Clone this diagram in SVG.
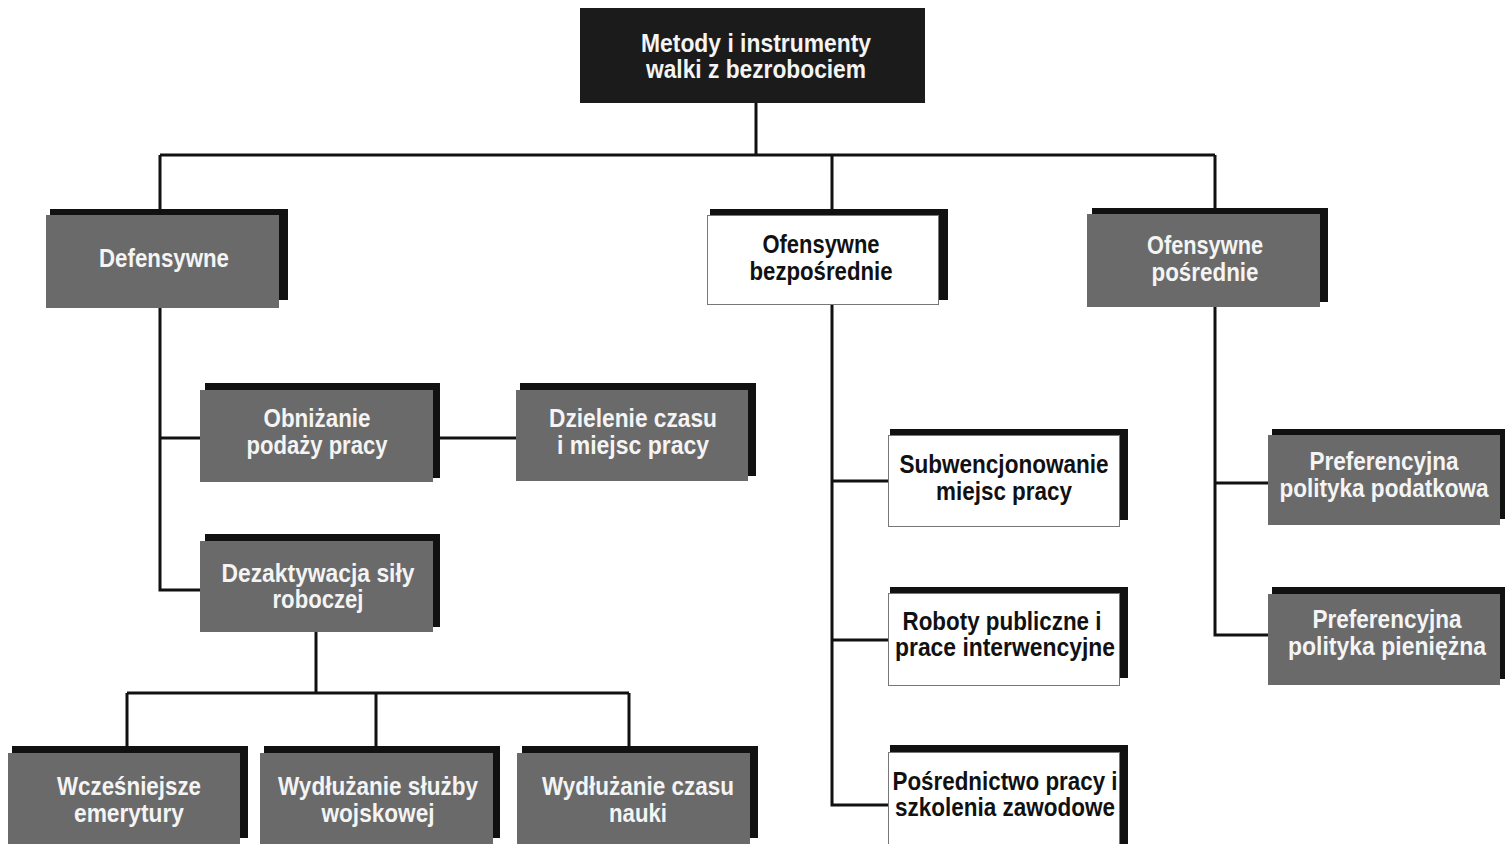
<svg xmlns="http://www.w3.org/2000/svg" width="1505" height="844" viewBox="0 0 1505 844">
<style>
.sh{fill:#111}
.g{fill:#6a6a6a}
.w{fill:#fff;stroke:#777;stroke-width:1}
.top{fill:#1b1b1b}
text{font-family:"Liberation Sans",Arial,sans-serif;font-weight:bold;font-size:25px;text-anchor:middle}
.lt{fill:#f4f4f4}
.dk{fill:#111}
.c{fill:none;stroke:#111;stroke-width:3}
</style>
<rect width="1505" height="844" fill="#fff"/>
<g id="connectors">
<path class="c" d="M756 103V155M160 155H1215M160 155V215M832 155V215M1215 155V215"/>
<path class="c" d="M160 308V590H200M160 438H200M433 438H516"/>
<path class="c" d="M316 632V693M127 693H629M127 693V753M376 693V753M629 693V753"/>
<path class="c" d="M832 305V805H888M832 481H888M832 640H888"/>
<path class="c" d="M1215 307V635H1268M1215 483H1268"/>
</g>
<g id="n-root">
<rect class="top" x="580" y="8" width="345" height="95"/>
<text class="lt" x="756" y="52" textLength="230" lengthAdjust="spacingAndGlyphs">Metody i instrumenty</text>
<text class="lt" x="756" y="78" textLength="220" lengthAdjust="spacingAndGlyphs">walki z bezrobociem</text>
</g>
<g id="n-defensywne">
<rect class="sh" x="50" y="209" width="238" height="91"/>
<rect class="g" x="46" y="215" width="233" height="93"/>
<text class="lt" x="164" y="267" textLength="130" lengthAdjust="spacingAndGlyphs">Defensywne</text>
</g>
<g id="n-ofens-bezp">
<rect class="sh" x="710" y="209" width="238" height="91"/>
<rect class="w" x="707.5" y="215.5" width="231" height="89"/>
<text class="dk" x="821" y="253" textLength="117" lengthAdjust="spacingAndGlyphs">Ofensywne</text>
<text class="dk" x="821" y="280" textLength="143" lengthAdjust="spacingAndGlyphs">bezpośrednie</text>
</g>
<g id="n-ofens-posr">
<rect class="sh" x="1092" y="208" width="236" height="94"/>
<rect class="g" x="1087" y="214" width="233" height="93"/>
<text class="lt" x="1205" y="254" textLength="116" lengthAdjust="spacingAndGlyphs">Ofensywne</text>
<text class="lt" x="1205" y="281" textLength="107" lengthAdjust="spacingAndGlyphs">pośrednie</text>
</g>
<g id="n-obnizanie">
<rect class="sh" x="205" y="383" width="235" height="95"/>
<rect class="g" x="200" y="390" width="233" height="92"/>
<text class="lt" x="317" y="427" textLength="107" lengthAdjust="spacingAndGlyphs">Obniżanie</text>
<text class="lt" x="317" y="454" textLength="141" lengthAdjust="spacingAndGlyphs">podaży pracy</text>
</g>
<g id="n-dzielenie">
<rect class="sh" x="520" y="383" width="236" height="93"/>
<rect class="g" x="516" y="390" width="232" height="91"/>
<text class="lt" x="633" y="427" textLength="168" lengthAdjust="spacingAndGlyphs">Dzielenie czasu</text>
<text class="lt" x="633" y="454" textLength="152" lengthAdjust="spacingAndGlyphs">i miejsc pracy</text>
</g>
<g id="n-dezaktywacja">
<rect class="sh" x="205" y="534" width="235" height="93"/>
<rect class="g" x="200" y="541" width="233" height="91"/>
<text class="lt" x="318" y="582" textLength="193" lengthAdjust="spacingAndGlyphs">Dezaktywacja siły</text>
<text class="lt" x="318" y="608" textLength="91" lengthAdjust="spacingAndGlyphs">roboczej</text>
</g>
<g id="n-wczesniejsze">
<rect class="sh" x="12" y="746" width="236" height="92"/>
<rect class="g" x="8" y="753" width="232" height="95"/>
<text class="lt" x="129" y="795" textLength="144" lengthAdjust="spacingAndGlyphs">Wcześniejsze</text>
<text class="lt" x="129" y="822" textLength="110" lengthAdjust="spacingAndGlyphs">emerytury</text>
</g>
<g id="n-sluzba">
<rect class="sh" x="264" y="746" width="236" height="92"/>
<rect class="g" x="260" y="753" width="233" height="95"/>
<text class="lt" x="378" y="795" textLength="200" lengthAdjust="spacingAndGlyphs">Wydłużanie służby</text>
<text class="lt" x="378" y="822" textLength="113" lengthAdjust="spacingAndGlyphs">wojskowej</text>
</g>
<g id="n-nauka">
<rect class="sh" x="522" y="746" width="236" height="92"/>
<rect class="g" x="517" y="753" width="233" height="95"/>
<text class="lt" x="638" y="795" textLength="192" lengthAdjust="spacingAndGlyphs">Wydłużanie czasu</text>
<text class="lt" x="638" y="822" textLength="58" lengthAdjust="spacingAndGlyphs">nauki</text>
</g>
<g id="n-subwencje">
<rect class="sh" x="890" y="429" width="238" height="91"/>
<rect class="w" x="888.5" y="435.5" width="231" height="91"/>
<text class="dk" x="1004" y="473" textLength="209" lengthAdjust="spacingAndGlyphs">Subwencjonowanie</text>
<text class="dk" x="1004" y="500" textLength="136" lengthAdjust="spacingAndGlyphs">miejsc pracy</text>
</g>
<g id="n-roboty">
<rect class="sh" x="890" y="587" width="238" height="91"/>
<rect class="w" x="888.5" y="593.5" width="231" height="92"/>
<text class="dk" x="1002" y="630" textLength="199" lengthAdjust="spacingAndGlyphs">Roboty publiczne i</text>
<text class="dk" x="1005" y="656" textLength="220" lengthAdjust="spacingAndGlyphs">prace interwencyjne</text>
</g>
<g id="n-posrednictwo">
<rect class="sh" x="890" y="745" width="238" height="99"/>
<rect class="w" x="888.5" y="752.5" width="231" height="95"/>
<text class="dk" x="1005" y="790" textLength="225" lengthAdjust="spacingAndGlyphs">Pośrednictwo pracy i</text>
<text class="dk" x="1005" y="816" textLength="220" lengthAdjust="spacingAndGlyphs">szkolenia zawodowe</text>
</g>
<g id="n-podatkowa">
<rect class="sh" x="1272" y="429" width="233" height="90"/>
<rect class="g" x="1268" y="435" width="232" height="90"/>
<text class="lt" x="1384" y="470" textLength="149" lengthAdjust="spacingAndGlyphs">Preferencyjna</text>
<text class="lt" x="1384" y="497" textLength="209" lengthAdjust="spacingAndGlyphs">polityka podatkowa</text>
</g>
<g id="n-pieniezna">
<rect class="sh" x="1272" y="587" width="233" height="92"/>
<rect class="g" x="1268" y="594" width="232" height="91"/>
<text class="lt" x="1387" y="628" textLength="149" lengthAdjust="spacingAndGlyphs">Preferencyjna</text>
<text class="lt" x="1387" y="655" textLength="198" lengthAdjust="spacingAndGlyphs">polityka pieniężna</text>
</g>
</svg>
